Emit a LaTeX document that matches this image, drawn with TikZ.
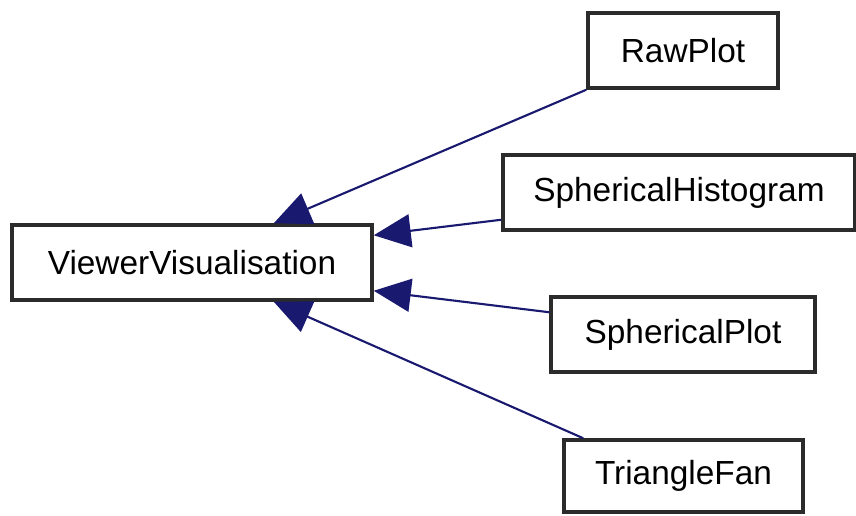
\documentclass[tikz,border=0pt]{standalone}
\usepackage{fontspec}
\setmainfont{Liberation Sans}
\usetikzlibrary{arrows.meta,calc}
\definecolor{edgeBlue}{HTML}{191970}
\definecolor{boxStroke}{HTML}{2B2B2B}

\begin{document}
\begin{tikzpicture}[
  font=\fontsize{19}{23}\selectfont,
  cls/.style={draw=boxStroke, line width=2pt, fill=white, align=center,
              minimum height=1.5cm, inner sep=0pt},
  inherit/.style={{Triangle[length=0.74cm,width=0.66cm]}-, line width=1.2pt, draw=edgeBlue},
]
\useasboundingbox (0,0) rectangle (17.12,-10.3);

% ---------------- NODES (absolute grid) ----------------
\node[cls, minimum width=7.2cm] (VIEWER) at (3.84,-5.25) {ViewerVisualisation};
\node[cls, minimum width=3.8cm] (RAW) at (13.66,-1.01) {RawPlot};
\node[cls, minimum width=7.04cm] (HIST) at (13.58,-3.85) {SphericalHistogram};
\node[cls, minimum width=5.28cm] (SPH) at (13.66,-6.69) {SphericalPlot};
\node[cls, minimum width=4.78cm, minimum height=1.44cm] (FAN) at (13.67,-9.52) {TriangleFan};

% ---------------- EDGES ----------------
\draw[inherit] ([xshift=-2cm]VIEWER.north east) -- (RAW.south west);
\draw[inherit] ([yshift=-0.24cm]VIEWER.north east) -- ([yshift=0.24cm]HIST.south west);
\draw[inherit] ([yshift=0.22cm]VIEWER.south east) -- ([yshift=-0.34cm]SPH.north west);
\draw[inherit] ([xshift=-2cm]VIEWER.south east) -- ([xshift=0.42cm]FAN.north west);
\end{tikzpicture}
\end{document}
